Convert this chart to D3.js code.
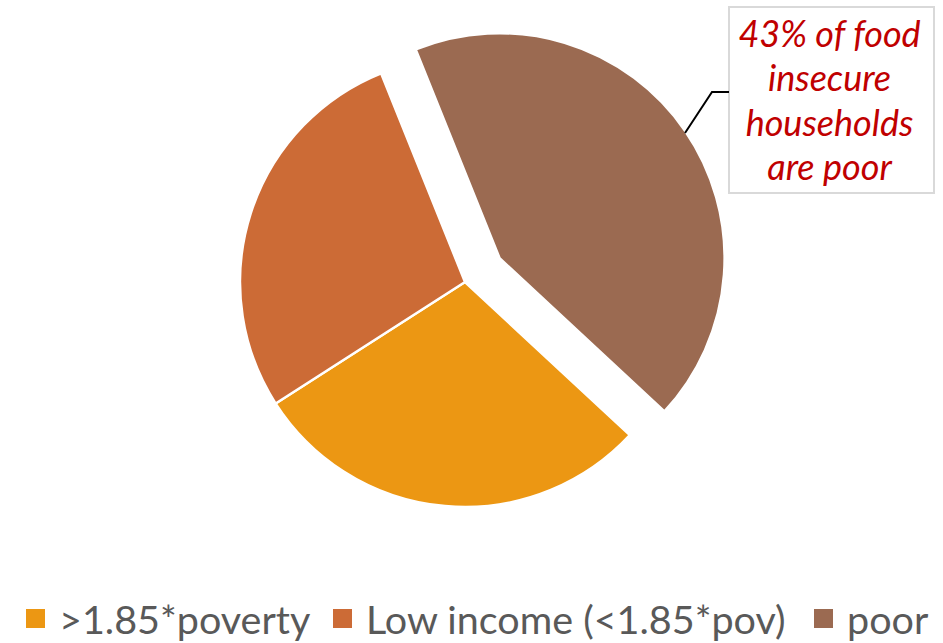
<!DOCTYPE html>
<html>
<head>
<meta charset="utf-8">
<script src="https://cdn.jsdelivr.net/npm/d3@7"></script>
<style>
  html, body { margin: 0; padding: 0; background: #fff; }
  svg { display: block; }
</style>
</head>
<body>
<svg id="chart" width="943" height="643"></svg>
<script>
// ---- data ----
const categories = [">1.85*poverty", "Low income (<1.85*pov)", "poor"];
const values = [29, 28, 43];
const colors = ["#EC9713", "#CC6B36", "#9B6A51"];
const explodedCategory = "poor";
const calloutLines = ["43% of food", "insecure", "households", "are poor"];

// ---- layout ----
const svg = d3.select("#chart");
const cx = 465, cy = 282, radius = 225;
const explodeDist = 42;
const startDeg = 132.9;

const pie = d3.pie().sort(null).value(d => d.value)
  .startAngle(startDeg * Math.PI / 180)
  .endAngle((startDeg + 360) * Math.PI / 180);
const arc = d3.arc().innerRadius(0).outerRadius(radius);

const data = categories.map((c, i) => ({ name: c, value: values[i], color: colors[i] }));
const arcs = pie(data);

const g = svg.append("g").attr("transform", `translate(${cx},${cy})`);
g.selectAll("path").data(arcs).enter().append("path")
  .attr("d", arc)
  .attr("fill", d => d.data.color)
  .attr("stroke", "#fff")
  .attr("stroke-width", 2.5)
  .attr("stroke-linejoin", "round")
  .attr("transform", d => {
    if (d.data.name !== explodedCategory) return null;
    const a = (d.startAngle + d.endAngle) / 2;
    return `translate(${explodeDist * Math.sin(a)},${-explodeDist * Math.cos(a)})`;
  });

// ---- callout ----
const box = { x: 729, y: 7, w: 205, h: 186 };
svg.append("rect")
  .attr("x", box.x).attr("y", box.y).attr("width", box.w).attr("height", box.h)
  .attr("fill", "#fff").attr("stroke", "#D9D9D9").attr("stroke-width", 2);
svg.append("path")
  .attr("d", d3.line()([[685, 133], [712, 92], [729, 92]]))
  .attr("fill", "none").attr("stroke", "#000").attr("stroke-width", 2);
svg.append("g").selectAll("text").data(calloutLines).enter().append("text")
  .attr("x", box.x + box.w / 2 - 2)
  .attr("y", (d, i) => 47 + i * 44.4)
  .attr("text-anchor", "middle")
  .attr("font-family", "Lato, 'Open Sans', sans-serif")
  .attr("font-style", "italic")
  .attr("font-size", 36)
  .attr("fill", "#C00000")
  .text(d => d);

// ---- legend ----
const legendX = [26, 333, 814];
const legend = svg.append("g");
data.forEach((d, i) => {
  legend.append("rect")
    .attr("x", legendX[i]).attr("y", 609).attr("width", 19).attr("height", 19)
    .attr("fill", d.color);
  legend.append("text")
    .attr("x", legendX[i] + 33).attr("y", 634)
    .attr("font-family", "Lato, 'Open Sans', sans-serif")
    .attr("font-size", 39.5)
    .attr("fill", "#595959")
    .text(d.name);
});
</script>
</body>
</html>
